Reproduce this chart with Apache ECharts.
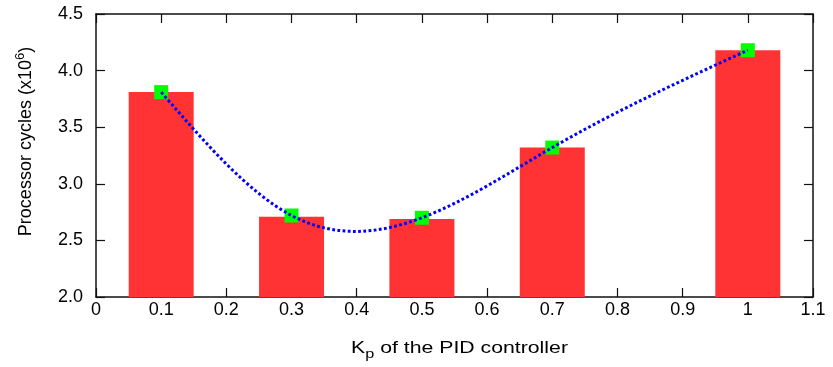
<!DOCTYPE html>
<html><head><meta charset="utf-8">
<script src="https://cdn.jsdelivr.net/npm/echarts@6/dist/echarts.min.js"></script>
<style>html,body{margin:0;padding:0;background:#fff}#c{width:833px;height:367px}</style>
</head><body><div id="c"></div>
<script>
// Data
const kpValues = [0.1, 0.3, 0.5, 0.7, 1.0];
const barCycles = [3.81, 2.71, 2.69, 3.32, 4.18];
const pointCycles = [3.81, 2.72, 2.70, 3.32, 4.18];
const xAxisRange = { min: 0, max: 1.1, interval: 0.1 };
const yAxisRange = { min: 2.0, max: 4.5, interval: 0.5 };
const xTitle = 'K{sub|p} of the PID controller';
const yTitle = 'Processor cycles (x10{sup|6})';

const FONT = '"Liberation Sans", Arial, Helvetica, sans-serif';
const frameLine = { show: true, onZero: false, lineStyle: { color: '#111', width: 1.5 } };
const tick = { show: true, inside: true, length: 9, lineStyle: { color: '#111', width: 1.2 } };

const barData = kpValues.map((x, i) => [x, barCycles[i]]);
const pointData = kpValues.map((x, i) => [x, pointCycles[i]]);

// Natural cubic spline through the measured points (as gnuplot "smooth csplines")
function splineSecondDerivs(xs, ys) {
  const n = xs.length, M = new Array(n).fill(0), h = [];
  for (let i = 0; i < n - 1; i++) h.push(xs[i + 1] - xs[i]);
  const a = [], b = [], c = [], d = [];
  for (let i = 1; i < n - 1; i++) {
    a.push(h[i - 1]); b.push(2 * (h[i - 1] + h[i])); c.push(h[i]);
    d.push(6 * ((ys[i + 1] - ys[i]) / h[i] - (ys[i] - ys[i - 1]) / h[i - 1]));
  }
  const m = b.length;
  for (let i = 1; i < m; i++) { const w = a[i] / b[i - 1]; b[i] -= w * c[i - 1]; d[i] -= w * d[i - 1]; }
  const s = new Array(m);
  s[m - 1] = d[m - 1] / b[m - 1];
  for (let i = m - 2; i >= 0; i--) s[i] = (d[i] - c[i] * s[i + 1]) / b[i];
  for (let i = 0; i < m; i++) M[i + 1] = s[i];
  return M;
}
const splineM = splineSecondDerivs(kpValues, pointCycles);

function renderSpline(params, api) {
  if (params.dataIndex !== 0) return null;
  const xs = kpValues, ys = pointCycles, M = splineM;
  const p0 = api.coord([xs[0], ys[0]]);
  let d = 'M' + p0[0] + ' ' + p0[1];
  for (let i = 0; i < xs.length - 1; i++) {
    const h = xs[i + 1] - xs[i];
    const slope = (ys[i + 1] - ys[i]) / h;
    const d0 = slope - h * (2 * M[i] + M[i + 1]) / 6;
    const d1 = slope + h * (M[i] + 2 * M[i + 1]) / 6;
    const c1 = api.coord([xs[i] + h / 3, ys[i] + d0 * h / 3]);
    const c2 = api.coord([xs[i + 1] - h / 3, ys[i + 1] - d1 * h / 3]);
    const e = api.coord([xs[i + 1], ys[i + 1]]);
    d += ' C' + c1[0] + ' ' + c1[1] + ' ' + c2[0] + ' ' + c2[1] + ' ' + e[0] + ' ' + e[1];
  }
  return {
    type: 'path',
    shape: { pathData: d },
    style: { fill: null, stroke: '#0000ff', lineWidth: 3, lineDash: [2.8, 2.4] }
  };
}

const chart = echarts.init(document.getElementById('c'), null, { renderer: 'canvas' });
chart.setOption({
  animation: false,
  backgroundColor: '#fff',
  textStyle: { fontFamily: FONT },
  grid: { left: 96, right: 20, top: 14, bottom: 70, containLabel: false },
  xAxis: [
    {
      type: 'value', position: 'bottom', ...xAxisRange,
      axisLine: frameLine, axisTick: tick, splitLine: { show: false },
      axisLabel: { show: true, color: '#000', fontSize: 18, margin: 4, fontFamily: FONT,
        showMinLabel: true, showMaxLabel: true }
    },
    {
      type: 'value', position: 'top', ...xAxisRange,
      axisLine: frameLine, axisTick: tick, splitLine: { show: false },
      axisLabel: { show: false }
    }
  ],
  yAxis: [
    {
      type: 'value', position: 'left', ...yAxisRange,
      axisLine: frameLine, axisTick: tick, splitLine: { show: false },
      axisLabel: { show: true, color: '#000', fontSize: 18, margin: 13, fontFamily: FONT,
        formatter: v => v.toFixed(1), showMinLabel: true, showMaxLabel: true }
    },
    {
      type: 'value', position: 'right', ...yAxisRange,
      axisLine: frameLine, axisTick: tick, splitLine: { show: false },
      axisLabel: { show: false }
    }
  ],
  graphic: [
    {
      type: 'text', x: 459.5, y: 348.5, z: 100, scaleX: 1.25,
      style: {
        text: xTitle, align: 'center', verticalAlign: 'middle',
        fontFamily: FONT, fontSize: 17, fill: '#000',
        rich: { sub: { fontSize: 13, fontFamily: FONT, fill: '#000', padding: [11, 0, 0, 0] } }
      }
    },
    {
      type: 'text', x: 26, y: 141.5, rotation: Math.PI / 2, z: 100,
      style: {
        text: yTitle, align: 'center', verticalAlign: 'middle',
        fontFamily: FONT, fontSize: 18, fill: '#000',
        rich: { sup: { fontSize: 13, fontFamily: FONT, fill: '#000', padding: [0, 0, 11, 0] } }
      }
    }
  ],
  series: [
    {
      type: 'bar', data: barData, barWidth: 65, z: 1,
      itemStyle: { color: '#ff3333', opacity: 1 }, emphasis: { disabled: true }
    },
    {
      type: 'scatter', data: pointData, symbol: 'rect', symbolSize: 14, z: 2,
      itemStyle: { color: '#00ff00', opacity: 1 }, emphasis: { disabled: true }
    },
    {
      type: 'custom', data: pointData, renderItem: renderSpline, z: 3, clip: false,
      encode: { x: 0, y: 1 }, silent: true
    }
  ]
});
</script>
</body></html>
